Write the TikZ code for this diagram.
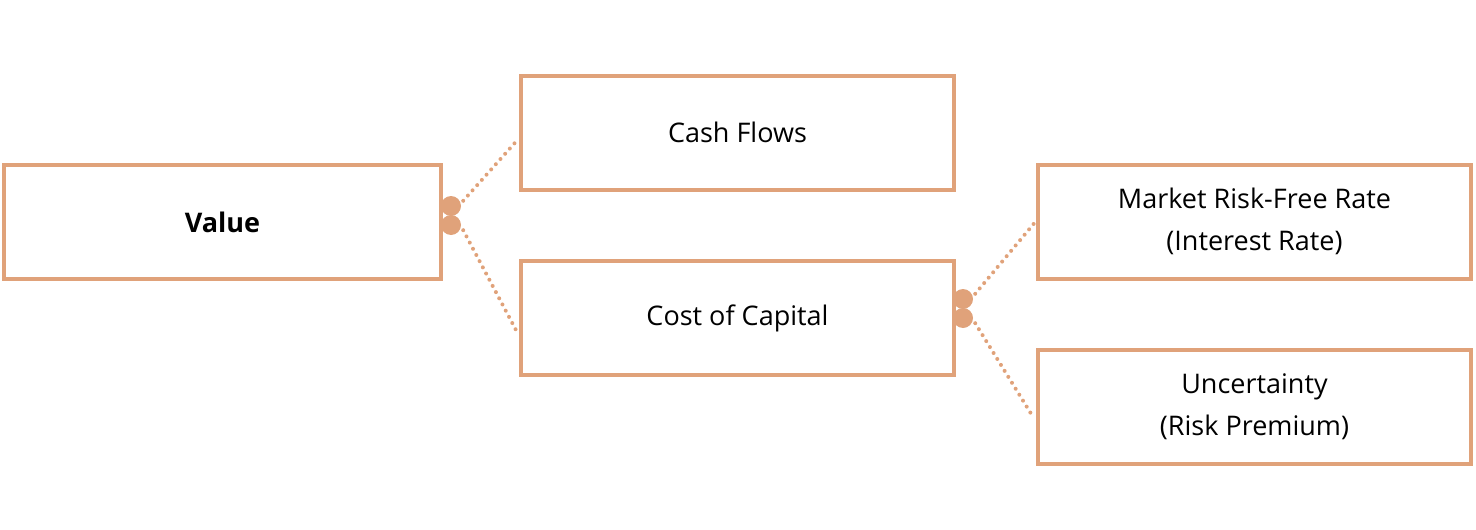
\documentclass[tikz,border=0pt]{standalone}
\usepackage{fontspec}
\setmainfont{Open Sans}
\usetikzlibrary{positioning}

\definecolor{tan}{HTML}{E0A27A}

\begin{document}
\begin{tikzpicture}[x=1pt, y=-1pt,
    box/.style={draw=tan, line width=4pt, minimum width=433pt, minimum height=114pt,
                inner sep=0pt, align=center, font=\fontsize{27}{42}\selectfont},
    knob/.style={circle, fill=tan, minimum size=20pt, inner sep=0pt},
    link/.style={draw=tan, line width=4pt, line cap=round, dash pattern=on 0pt off 7pt}]
    \useasboundingbox (0,0) rectangle (1476,530);
    % boxes
    \node[box, minimum width=437pt] (value) at (222.5,222) {\textbf{Value}};
    \node[box] (cash) at (737.5,132.5) {Cash Flows};
    \node[box] (cost) at (737.5,318) {Cost of Capital};
    \node[box] (rate) at (1254.5,221.5) {Market Risk-Free Rate\\(Interest Rate)};
    \node[box] (risk) at (1254.5,406.5) {Uncertainty\\(Risk Premium)};
    % knobs
    \node[knob] (v1) at (451,206) {};
    \node[knob] (v2) at (451,225) {};
    \node[knob] (c1) at (963,299) {};
    \node[knob] (c2) at (963,318) {};
    % links
    \draw[link] ([shift={(5pt,-2pt)}]v1.north east) -- ([shift={(-2pt,-8pt)}]cash.west);
    \draw[link] ([shift={(5pt,2pt)}]v2.south east) -- ([shift={(-2pt,-14pt)}]cost.west);
    \draw[link] ([shift={(5pt,-2pt)}]c1.north east) -- ([shift={(-2pt,-2pt)}]rate.west);
    \draw[link] ([shift={(5pt,2pt)}]c2.south east) -- ([shift={(-2pt,-12pt)}]risk.west);
\end{tikzpicture}
\end{document}
